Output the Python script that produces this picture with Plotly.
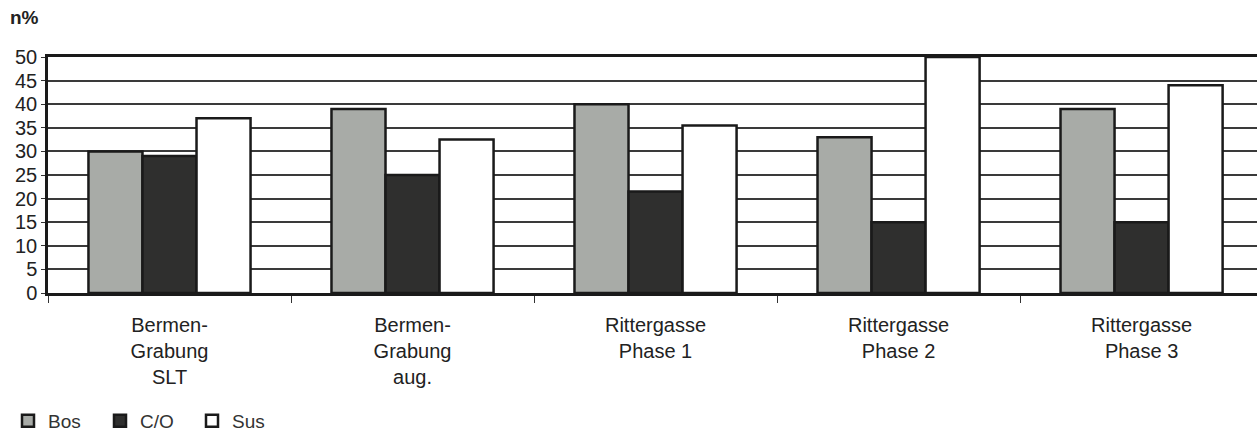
import plotly.graph_objects as go

# Sites / excavation phases (x categories)
categories = [
    "Bermen-<br>Grabung<br>SLT",
    "Bermen-<br>Grabung<br>aug.",
    "Rittergasse<br>Phase 1",
    "Rittergasse<br>Phase 2",
    "Rittergasse<br>Phase 3",
]

# Share of each animal group, in percent
bos = [30, 39, 40, 33, 39]
co = [29, 25, 21.5, 15, 15]
sus = [37, 32.5, 35.5, 50, 44]

series_names = ["Bos", "C/O", "Sus"]
series_values = [bos, co, sus]
series_colors = ["#a8aba7", "#2f2f2e", "#ffffff"]

y_ticks = list(range(0, 51, 5))

font_family = "Liberation Sans, Arial, Helvetica, sans-serif"
text_color = "#222222"

fig = go.Figure()
for name, vals, col in zip(series_names, series_values, series_colors):
    fig.add_trace(go.Bar(
        name=name,
        x=categories,
        y=vals,
        marker=dict(color=col, line=dict(color="#1a1a1a", width=2.5)),
    ))

fig.update_layout(
    width=1257,
    height=439,
    margin=dict(l=48, r=0, t=57, b=146),
    paper_bgcolor="#ffffff",
    plot_bgcolor="#ffffff",
    barmode="group",
    bargap=0.333,
    bargroupgap=0,
    font=dict(family=font_family, size=20, color=text_color),
    showlegend=True,
    legend=dict(
        orientation="h",
        xref="container",
        yref="container",
        x=8 / 1257,
        xanchor="left",
        y=18 / 439,
        yanchor="middle",
        font=dict(size=19, color="#333333"),
        itemwidth=30,
        entrywidth=47,
        entrywidthmode="pixels",
        traceorder="normal",
        bgcolor="rgba(0,0,0,0)",
    ),
    annotations=[
        dict(
            text="<b>n%</b>",
            xref="paper", yref="paper",
            x=-40 / 1209, y=1 + 40 / 236,
            xanchor="left", yanchor="middle",
            showarrow=False,
            font=dict(size=19, color=text_color, family=font_family),
        )
    ],
)

fig.update_xaxes(
    type="category",
    range=[-0.5, 4.475],
    showline=True,
    linecolor="#1a1a1a",
    linewidth=2.5,
    mirror=True,
    ticks="outside",
    tickson="boundaries",
    ticklen=7,
    tickwidth=1,
    tickcolor="#333333",
    ticklabelstandoff=12,
    showgrid=False,
    tickfont=dict(size=20, color=text_color),
)

fig.update_yaxes(
    range=[0, 50],
    tickvals=y_ticks,
    ticktext=[str(v) for v in y_ticks],
    showline=True,
    linecolor="#1a1a1a",
    linewidth=2.5,
    mirror=False,
    ticks="outside",
    ticklen=4,
    tickwidth=1,
    tickcolor="#333333",
    showgrid=True,
    gridcolor="#3a3a3a",
    gridwidth=1.5,
    zeroline=False,
    tickfont=dict(size=20, color=text_color),
)

fig.write_html("out.html")
